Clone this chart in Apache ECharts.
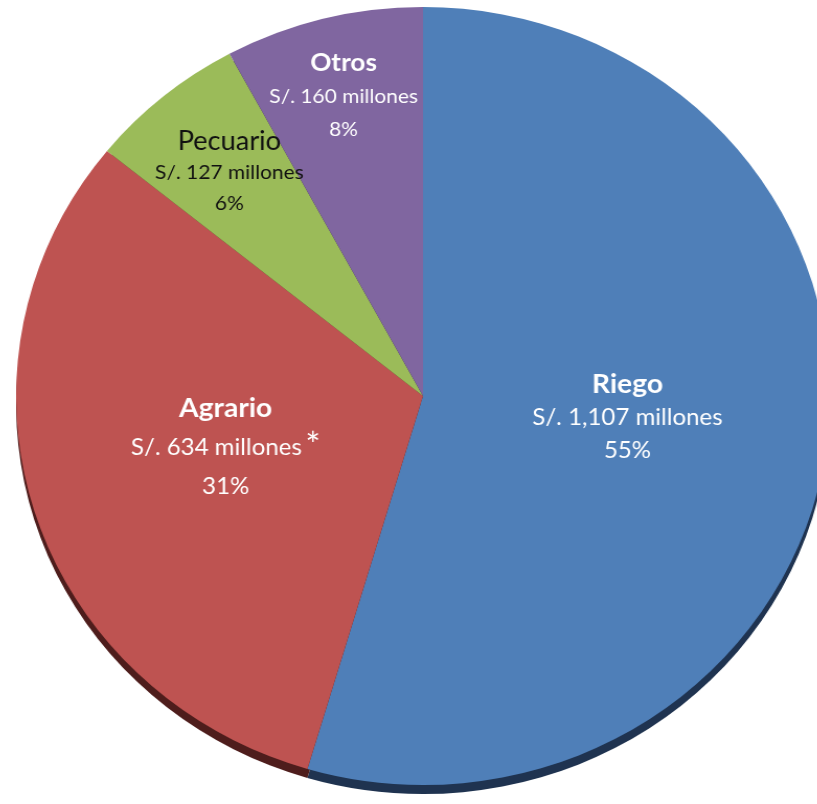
<!DOCTYPE html>
<html>
<head>
<meta charset="utf-8">
<script src="https://cdn.jsdelivr.net/npm/echarts@6/dist/echarts.min.js"></script>
<style>
  html, body { margin: 0; padding: 0; background: #fff; overflow: hidden; }
  #main { width: 817px; height: 804px; transform: scaleX(1.046); transform-origin: 423px 0; }
</style>
</head>
<body>
<div id="main"></div>
<script>
// datos del gráfico
const categories = ['Riego', 'Agrario', 'Pecuario', 'Otros'];
const amounts = [1107, 634, 127, 160];
const notes = ['', '*', '', ''];

const colors = ['#4F7FB8', '#BE5351', '#9BBB59', '#8066A0'];
const edgeColors = ['#1F3350', '#4E1D1C', '#3D4A23', '#33283F'];

const CX = 423, CY = 396, R = 389;

// estilo de etiqueta por sector: grande blanco, pequeño oscuro, pequeño blanco
const labelStyle = ['a', 'b', 'd', 'w'];

const chart = echarts.init(document.getElementById('main'));

const labelText = (params) => {
    const i = params.dataIndex;
    const s = labelStyle[i];
    const amount = 'S/. ' + amounts[i].toLocaleString('en-US') + ' millones';
    const note = notes[i] ? ' {ast|' + notes[i] + '}' : '';
    return '{' + s + 't|' + categories[i] + '}\n{' + s + 'v|' + amount + '}' + note +
        '\n{' + s + 'v|' + Math.round(params.percent) + '%}';
};

const F = 'Lato';
const rich = {
    at: { fontFamily: F, fontWeight: 'bold', fontSize: 27, color: '#fff', lineHeight: 34 },
    av: { fontFamily: F, fontSize: 23, color: '#fff', lineHeight: 33 },
    bt: { fontFamily: F, fontWeight: 'bold', fontSize: 27, color: '#fff', lineHeight: 39 },
    bv: { fontFamily: F, fontSize: 23, color: '#fff', lineHeight: 39 },
    dt: { fontFamily: F, fontSize: 26, color: '#111', lineHeight: 31 },
    dv: { fontFamily: F, fontSize: 20, color: '#111', lineHeight: 31 },
    wt: { fontFamily: F, fontWeight: 'bold', fontSize: 25, color: '#fff', lineHeight: 35 },
    wv: { fontFamily: F, fontSize: 20, color: '#fff', lineHeight: 33 },
    ast: { fontFamily: F, fontSize: 34, color: '#fff', padding: [0, 0, 2, 0] }
};

const labelPad = [[0, 0, 15, 0], [0, 0, 14, 0], [0, 0, 0, 0], [0, 0, 0, 0]];

const baseSeries = {
    type: 'pie',
    center: [CX, CY],
    radius: R,
    startAngle: 90,
    percentPrecision: 0,
    labelLine: { show: false },
    labelLayout: { hideOverlap: false },
    label: { position: 'inside', formatter: labelText, rich: rich }
};

// capa transparente que solo lleva la etiqueta de un sector pequeño,
// con el radio interior elegido para acercarla al borde
const labelRing = (idx, inner) => Object.assign({}, baseSeries, {
    silent: true,
    radius: [inner, R],
    itemStyle: { color: 'rgba(0,0,0,0)' },
    data: amounts.map((v, i) => ({ value: v, name: categories[i], label: { show: i === idx } }))
});

const option = {
    backgroundColor: '#fff',
    animation: false,
    series: [
        {
            // borde inferior oscuro (efecto 3D)
            type: 'pie',
            silent: true,
            center: [CX, CY + 9],
            radius: R,
            startAngle: 90,
            label: { show: false },
            labelLine: { show: false },
            data: amounts.map((v, i) => ({ value: v, name: categories[i], itemStyle: { color: edgeColors[i] } }))
        },
        Object.assign({}, baseSeries, {
            data: amounts.map((v, i) => ({
                value: v,
                name: categories[i],
                itemStyle: { color: colors[i] },
                label: { show: i < 2, padding: labelPad[i] }
            }))
        }),
        labelRing(2, 185),
        labelRing(3, 224)
    ]
};

chart.setOption(option);
</script>
</body>
</html>
